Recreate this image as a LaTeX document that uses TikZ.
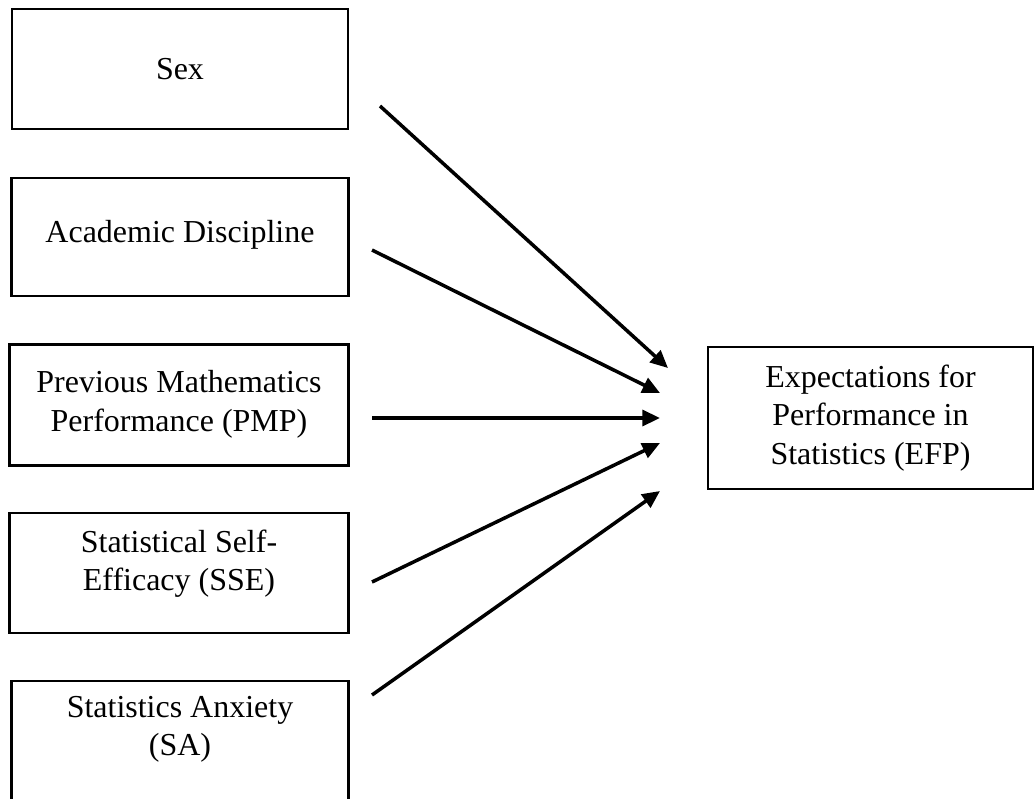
\documentclass[tikz,border=0pt]{standalone}
\usepackage{fontspec}
\setmainfont{Liberation Serif}
\usetikzlibrary{arrows.meta}

\begin{document}
\begin{tikzpicture}[x=0.02cm,y=-0.02cm,
    var/.style={draw,line width=1.3pt,align=center,inner sep=0pt,
      font=\fontsize{18.2}{22}\selectfont},
    path/.style={line width=2pt,-{Triangle[length=10pt,width=9pt]}}]
      \useasboundingbox (0,0) rectangle (1034,798);
      % predictors
      \node[var,minimum width=336*0.02cm,minimum height=120*0.02cm] (sex) at (180,69) {Sex};
      \node[var,minimum width=337*0.02cm,minimum height=118*0.02cm] (discipline) at (180,237) {Academic Discipline\\[-15.2pt]};
      \node[var,minimum width=339*0.02cm,minimum height=121*0.02cm] (pmp) at (179,405) {Previous Mathematics\\Performance (PMP)\\[-17.5pt]};
      \node[var,minimum width=339*0.02cm,minimum height=120*0.02cm] (sse) at (179,573) {Statistical Self-\\Efficacy (SSE)\\[-7.3pt]};
      \node[var,minimum width=337*0.02cm,minimum height=120*0.02cm] (sa) at (180,741) {Statistics Anxiety\\(SA)\\[-5pt]};
      % outcome
      \node[var,minimum width=325*0.02cm,minimum height=142*0.02cm] (efp) at (870.5,418) {Expectations for\\Performance in\\Statistics (EFP)};
      % arrow ends
      \coordinate (s1) at (380,106);
      \coordinate (s2) at (372,250);
      \coordinate (s3) at (372,418);
      \coordinate (s4) at (372,582);
      \coordinate (s5) at (372,695);
      \coordinate (e1) at (668,368);
      \coordinate (e2) at (660,393);
      \coordinate (e3) at (660,418);
      \coordinate (e4) at (660,443);
      \coordinate (e5) at (660,491);
      \draw[path] (s1) -- (e1);
      \draw[path] (s2) -- (e2);
      \draw[path] (s3) -- (e3);
      \draw[path] (s4) -- (e4);
      \draw[path] (s5) -- (e5);
\end{tikzpicture}
\end{document}
